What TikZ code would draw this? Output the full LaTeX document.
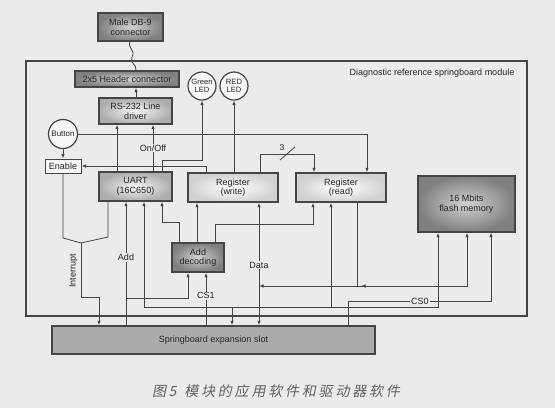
\documentclass[tikz,border=0pt]{standalone}
\usepackage{fontspec}
\setmainfont{Liberation Sans}
\newfontfamily\cjk[FakeSlant=0.2,LetterSpace=20]{Noto Sans CJK SC}
\usetikzlibrary{arrows.meta}
\definecolor{bg}{HTML}{EBEBEB}
\definecolor{ln}{HTML}{454545}
\definecolor{tx}{HTML}{262626}
\begin{document}
\begin{tikzpicture}[x=1pt,y=-1pt,
  font=\fontsize{9}{9.6}\selectfont, text=tx,
  box/.style={draw=ln, line width=1.3pt, align=center, inner sep=0pt},
  dk/.style={box, inner color=black!18, outer color=black!50},
  md/.style={box, inner color=black!4, outer color=black!32},
  lt/.style={box, inner color=white, outer color=black!18},
  led/.style={draw=ln, line width=1.2pt, circle, minimum size=28pt, inner sep=0pt, align=center, fill=black!3, font=\fontsize{7.6}{8}\selectfont},
  wire/.style={draw=ln, line width=0.8pt},
  arr/.style={wire, -{Latex[length=4.5pt,width=3.4pt]}},
  arrtwo/.style={wire, {Latex[length=4.5pt,width=3.4pt]}-{Latex[length=4.5pt,width=3.4pt]}},
  lab/.style={fill=bg, inner sep=1pt},
]
\useasboundingbox (0,0) rectangle (555,408);
\fill[bg] (0,0) rectangle (555,408);

% frame
\node[draw=ln, line width=1.2pt, minimum width=501pt, minimum height=255pt, inner sep=0pt] (module) at (276.5,188.5) {};
\node (title) at (432,73) {Diagnostic reference springboard module};

% nodes
\node[dk, minimum width=65pt, minimum height=28pt] (db9) at (130.5,27) {Male DB-9\\connector};
\node[dk, minimum width=104pt, minimum height=16pt] (header) at (127,79) {2x5 Header connector};
\node[led] (green) at (202,86) {Green\\LED};
\node[led] (red) at (234,86) {RED\\LED};
\node[md, minimum width=73pt, minimum height=26pt] (rs) at (135.5,111) {RS-232 Line\\driver};
\node[led, minimum size=29pt, font=\fontsize{8}{8}\selectfont] (button) at (63,134) {Button};
\node[box, line width=1pt, fill=black!3, minimum width=36pt, minimum height=14pt] (enable) at (63,166) {Enable};
\node[md, minimum width=73pt, minimum height=29pt] (uart) at (135.5,186.5) {UART\\(16C650)};
\node[lt, minimum width=90pt, minimum height=29pt] (regw) at (233,187.5) {Register\\(write)};
\node[lt, minimum width=90pt, minimum height=29pt] (regr) at (341,187.5) {Register\\(read)};
\node[dk, minimum width=97pt, minimum height=56pt] (flash) at (466.5,204) {16 Mbits\\flash memory};
\node[dk, minimum width=52pt, minimum height=29pt] (adddec) at (198,257.5) {Add\\decoding};
\node[box, fill=black!33, minimum width=323pt, minimum height=28pt] (slot) at (213.5,340) {Springboard expansion slot};

% top connectors
\draw[wire] (130,0 |- db9.south) .. controls (127,48) and (136,50) .. (132,57)
  .. controls (129,63) and (137,64) .. (136,0 |- header.north);
\draw[arr] (136,0 |- rs.north) -- (136,0 |- header.south);
\draw[arr] (117,0 |- uart.north) -- (117,0 |- rs.south);
\draw[arr] (153,0 |- uart.north) -- node[lab, pos=0.5] (lonoff) {On/Off} (153,0 |- rs.south);
\draw[arr] (162,0 |- uart.north) |- (202,160) -- (green.south);
\draw[arr] (red.south |- regw.north) -- (red.south);
\draw[arr] (206,0 |- regw.north) |- (enable.east);
\draw[arr] (button.south) -- (enable.north);
\draw[arr] (button.east) -| (367,0 |- regr.north);
\draw[arr] (260,0 |- regw.north) |- (314,154) -- (314,0 |- regr.north);
\draw[wire] (280,160) -- (295,147);
\node[font=\fontsize{8.5}{8.5}\selectfont] (lthree) at (282,148) {3};

% interrupt
\coordinate (merge) at (81,243);
\draw[wire] (enable.south) -- (63,238) -- (merge);
\draw[wire] (108,0 |- uart.south) -- (108,237) -- (merge);
\draw[arr] (merge) |- (99,297) -- (99,0 |- slot.north);
\node[rotate=90] (lint) at (73.5,271) {Interrupt};

% address
\draw[arr] (126,0 |- slot.north) -- node[lab, pos=0.55] (ladd) {Add} (126,0 |- uart.south);
\draw[arr] (126,298) -| (188,0 |- adddec.south);
\draw[arrtwo] (144,0 |- uart.south) |- (438,307) -- (438,0 |- flash.south);
\draw[arr] (331,307) -- (331,0 |- regr.south);
\draw[arr] (232,307) -- (232,0 |- slot.north);

% data
\draw[arrtwo] (259,0 |- slot.north) -- node[lab, pos=0.49] (ldata) {Data} (259,0 |- regw.south);
\draw[arr] (357,0 |- regr.south) |- (259,286);
\draw[arr] (357,286) -| (467,0 |- flash.south);
\draw[arr] (369,286) -- (361,286);

% chip selects
\draw[arr] (206,0 |- slot.north) -- node[lab, pos=0.56] (lcsone) {CS1} (206,0 |- adddec.south);
\draw[wire, line width=0.6pt, -{Latex[length=4.5pt,width=3.4pt]}] (348,0 |- slot.north) |- (491,301) -- (491,0 |- flash.south);
\node[lab] (lcszero) at (420,301) {CS0};
\draw[arr] (179,0 |- adddec.north) |- (162,222) -- (162,0 |- uart.south);
\draw[arr] (197,0 |- adddec.north) -- (197,0 |- regw.south);
\draw[arr] (215,0 |- adddec.north) |- (313,224) -- (313,0 |- regr.south);

% caption
\node[anchor=west, text=black!62, inner sep=0pt] (cap) at (152,391)
  {\cjk\fontsize{14}{14}\selectfont 图\,5\hspace{8pt}模块的应用软件和驱动器软件};
\end{tikzpicture}
\end{document}
